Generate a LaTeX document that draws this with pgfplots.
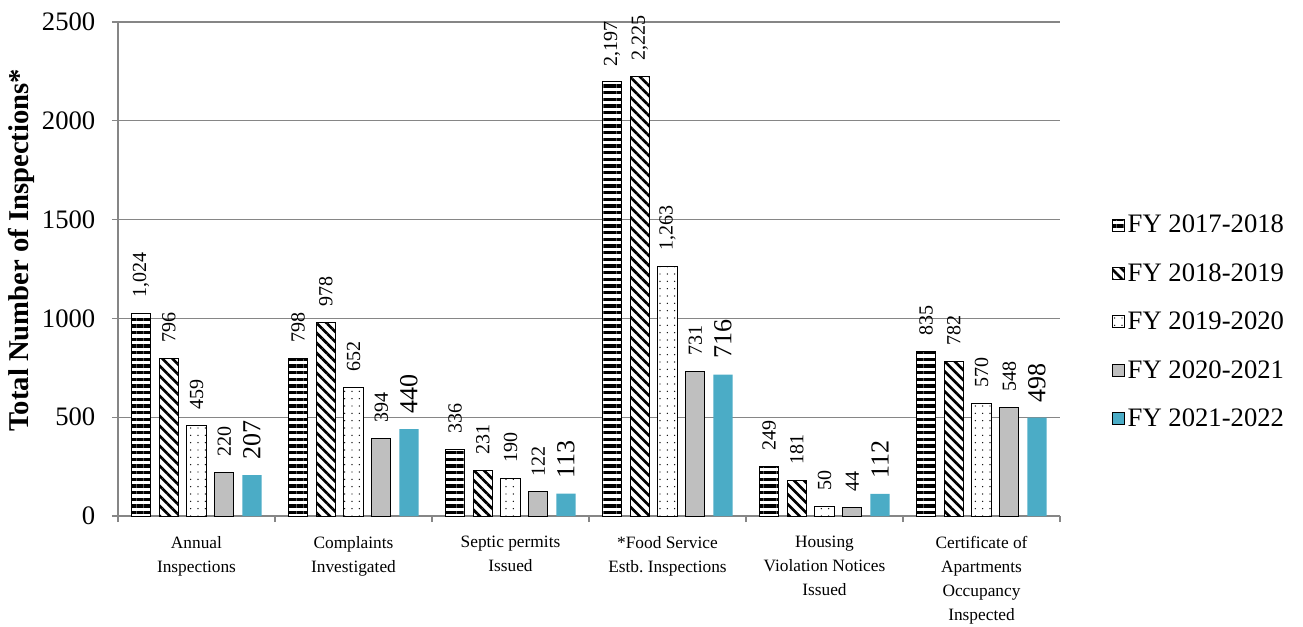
\documentclass[border=0pt]{standalone}
\usepackage{fontspec}
\setmainfont{Liberation Serif}
\usepackage{pgfplots}
\usepackage{pgfplotstable}
\pgfplotsset{compat=1.18}
\usetikzlibrary{patterns.meta}

\definecolor{gridgray}{HTML}{868686}
\definecolor{barGray}{HTML}{BFBFBF}
\definecolor{barCyan}{HTML}{4BACC6}

% Inspections per program, one column per fiscal year
\pgfplotstableread{
idx y1718 y1819 y1920 y2021 y2122
0 1024 796 459 220 207
1 798 978 652 394 440
2 336 231 190 122 113
3 2197 2225 1263 731 716
4 249 181 50 44 112
5 835 782 570 548 498
}\inspections

\begin{document}
\begin{tikzpicture}
\begin{axis}[
  at={(0,0)}, anchor=south west,
  scale only axis, width=706.5pt, height=370.5pt,
  xmin=-0.5, xmax=5.5, ymin=0, ymax=2500,
  ybar=6.3pt, bar width=14.5pt,
  axis x line*=bottom, axis y line*=left,
  axis line style={gridgray, line width=0.9pt},
  ymajorgrids, major grid style={gridgray, line width=0.9pt},
  tick align=outside,
  ytick={0,500,...,2500},
  major y tick style={gridgray, line width=0.9pt},
  major tick length=4.5pt, minor tick length=4.5pt,
  xtick={0,...,5}, major x tick style={draw=none},
  minor xtick={-0.5,0.5,...,5.5},
  minor x tick style={gridgray, line width=0.9pt},
  /pgf/number format/assume math mode=true,
  yticklabel style={font=\fontsize{20}{20}\selectfont, xshift=-9pt,
    /pgf/number format/1000 sep={}},
  xticklabels={Annual\\Inspections, Complaints\\Investigated, Septic permits\\Issued,
    *Food Service\\Estb.\ Inspections, Housing\\Violation Notices\\Issued,
    Certificate of\\Apartments\\Occupancy\\Inspected},
  xticklabel style={align=center, font=\fontsize{13}{18}\selectfont, anchor=north, yshift=-7pt},
  ylabel={Total Number of Inspections*},
  ylabel style={font=\fontsize{21.5}{24}\selectfont\bfseries,
    at={(axis description cs:-0.103,0.538)}, anchor=center},
  nodes near coords,
  every node near coord/.append style={rotate=90, anchor=west, inner xsep=11.5pt,
    inner ysep=0pt, black, font=\fontsize{15}{15}\selectfont,
    /pgf/number format/1000 sep={,}},
  legend style={at={(1.055,0.393)}, anchor=west, draw=none, inner sep=0pt,
    font=\fontsize{20}{24}\selectfont, row sep=17.5pt,
    nodes={inner xsep=2pt}},
  legend cell align=left,
  legend image code/.code={\draw[#1] (0pt,-4.5pt) rectangle (9pt,4.5pt);},
]
\addplot[draw=black, line width=0.75pt, fill=white,
  postaction={pattern={Lines[angle=0,distance=5pt,line width=2.3pt]}}]
  table[x=idx, y=y1718] {\inspections};
\addplot[draw=black, line width=0.75pt, fill=white,
  postaction={pattern={Lines[angle=-45,distance=5.3pt,line width=2pt]}}]
  table[x=idx, y=y1819] {\inspections};
\addplot[draw=black, line width=0.75pt, fill=white,
  postaction={pattern={Dots[radius=0.55pt,distance=5.5pt]}}]
  table[x=idx, y=y1920] {\inspections};
\addplot[draw=black, line width=0.75pt, fill=barGray]
  table[x=idx, y=y2021] {\inspections};
\addplot[draw=none, fill=barCyan,
  every node near coord/.append style={font=\fontsize{19.5}{19.5}\selectfont}]
  table[x=idx, y=y2122] {\inspections};
\legend{FY 2017-2018, FY 2018-2019, FY 2019-2020, FY 2020-2021, FY 2021-2022}
\end{axis}
\pgfresetboundingbox
\path (-88.5pt,-82.5pt) rectangle (888.75pt,387pt);
\end{tikzpicture}
\end{document}
